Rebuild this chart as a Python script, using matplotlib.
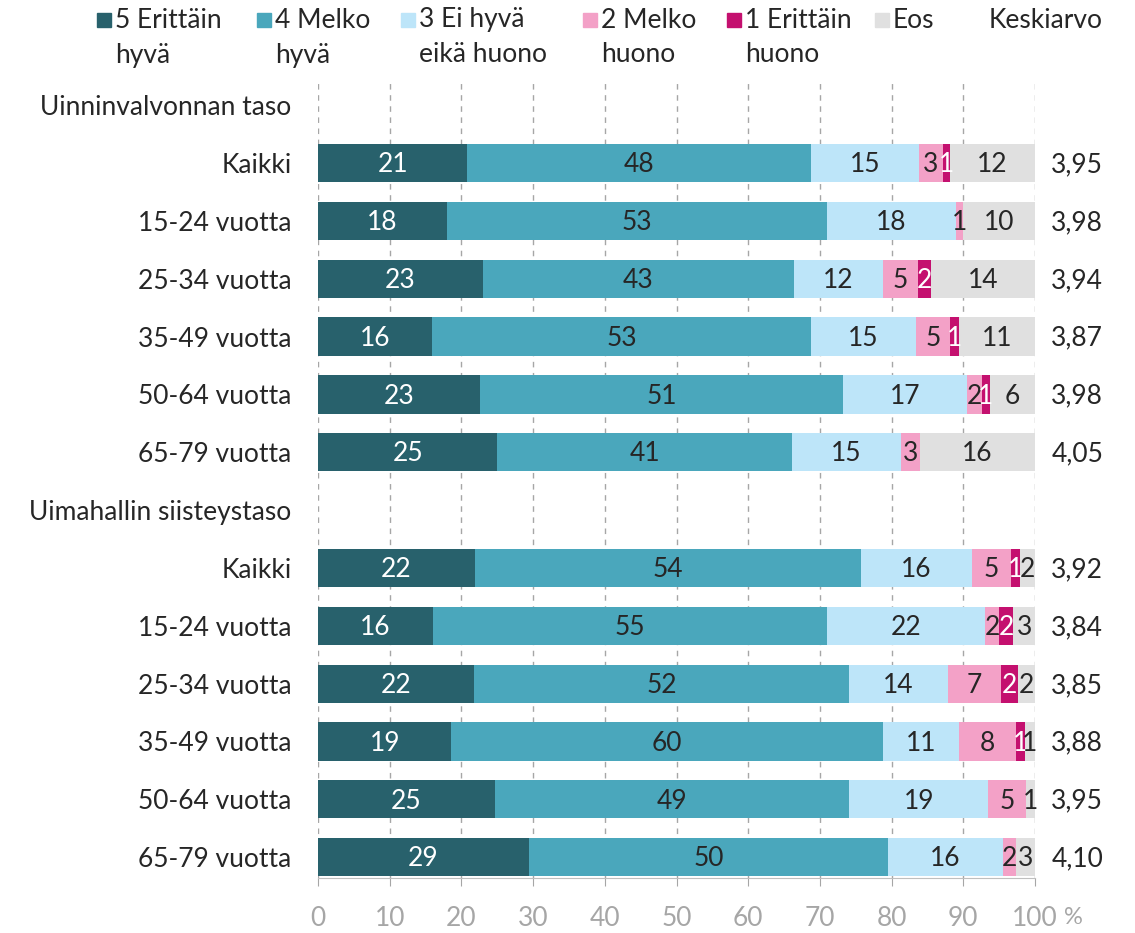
import numpy as np
import matplotlib
matplotlib.use('Agg')
from matplotlib import pyplot as plt
from matplotlib.patches import Rectangle

plt.rcParams['font.family'] = ['Lato', 'DejaVu Sans']

# categories (header rows have no bars)
categories = ['Uinninvalvonnan taso', 'Kaikki', '15-24 vuotta', '25-34 vuotta', '35-49 vuotta',
              '50-64 vuotta', '65-79 vuotta',
              'Uimahallin siisteystaso', 'Kaikki', '15-24 vuotta', '25-34 vuotta', '35-49 vuotta',
              '50-64 vuotta', '65-79 vuotta']
is_header = [True, False, False, False, False, False, False,
             True, False, False, False, False, False, False]

series_names = ['5 Erittäin\nhyvä', '4 Melko\nhyvä', '3 Ei hyvä\neikä huono',
                '2 Melko\nhuono', '1 Erittäin\nhuono', 'Eos']

# percentages per row (0 for header rows)
v5   = [0, 20.8, 18.0, 23.0, 15.9, 22.6, 25.0, 0, 21.9, 16.0, 21.8, 18.6, 24.7, 29.4]
v4   = [0, 48.0, 53.0, 43.4, 52.9, 50.6, 41.1, 0, 53.8, 55.0, 52.3, 60.2, 49.4, 50.1]
v3   = [0, 15.0, 18.0, 12.4, 14.6, 17.3, 15.2, 0, 15.5, 22.0, 13.7, 10.6, 19.4, 16.0]
v2   = [0,  3.4,  1.0,  4.9,  4.7,  2.1,  2.6, 0,  5.4,  2.0,  7.4,  8.0,  5.3,  1.9]
v1   = [0,  0.9,  0.0,  1.8,  1.3,  1.1,  0.0, 0,  1.3,  2.0,  2.4,  1.2,  0.0,  0.0]
veos = [0, 11.9, 10.0, 14.5, 10.6,  6.3, 16.1, 0,  2.1,  3.0,  2.4,  1.4,  1.2,  2.6]

keskiarvo = [None, 3.95, 3.98, 3.94, 3.87, 3.98, 4.05,
             None, 3.92, 3.84, 3.85, 3.88, 3.95, 4.10]

colors = ['#28616C', '#4AA7BC', '#BDE5F9', '#F3A1C7', '#C4106F', '#E0E0E0']
text_colors = ['white', '#262626', '#262626', '#262626', 'white', '#262626']
fs = 19

W, H = 1135, 933
fig = plt.figure(figsize=(W / 100, H / 100), dpi=100)
ax = fig.add_axes([318 / W, 1 - 878 / H, (1035 - 318) / W, (878 - 78) / H])

y = np.arange(len(categories))
data = [v5, v4, v3, v2, v1, veos]
left = np.zeros(len(categories))
for vals, col, tcol in zip(data, colors, text_colors):
    vals = np.array(vals, dtype=float)
    ax.barh(y, vals, left=left, height=0.66, color=col, zorder=2)
    for yi, (l, v) in enumerate(zip(left, vals)):
        if is_header[yi] or round(v) == 0:
            continue
        ax.text(l + v / 2, yi + 0.03, str(int(round(v))), ha='center', va='center',
                fontsize=fs, color=tcol, zorder=3)
    left = left + vals

# keskiarvo column
for yi, k in enumerate(keskiarvo):
    if k is None:
        continue
    ax.text(109.5, yi + 0.03, ('%.2f' % k).replace('.', ','), ha='right', va='center',
            fontsize=fs, color='#262626', clip_on=False)

ax.set_xlim(0, 100)
ax.set_ylim(13.36, -0.47)
ax.set_yticks(y)
ax.set_yticklabels(categories, fontsize=fs, color='#262626')
ax.tick_params(axis='y', length=0, pad=19)
ax.set_xticks(np.arange(0, 101, 10))
ax.tick_params(axis='x', colors='#A6A6A6', labelsize=fs, length=6, pad=14,
               direction='out')
for lab in ax.get_xticklabels():
    lab.set_color('#A6A6A6')
ax.xaxis.grid(True, linestyle=(0, (4, 4)), color='#A6A6A6', linewidth=1, zorder=0)
ax.set_axisbelow(True)
for s in ['top', 'right', 'left']:
    ax.spines[s].set_visible(False)
ax.spines['bottom'].set_color('#BFBFBF')
fig.text(1064 / W, 1 - 918 / H, '%', fontsize=17, color='#A6A6A6', ha='left', va='center')

# legend drawn by hand across the top
legend_x = [97, 257, 401, 583, 727, 875]
for name, col, lx in zip(series_names, colors, legend_x):
    fig.patches.append(Rectangle((lx / W, 1 - 27 / H), 14 / W, 14 / H, color=col,
                                 transform=fig.transFigure, figure=fig))
    line1, line2 = (name.split('\n') + [''])[:2]
    fig.text((lx + 18) / W, 1 - 20 / H, line1, fontsize=fs, color='#262626', va='center')
    if line2:
        fig.text((lx + 18) / W, 1 - 55 / H, line2, fontsize=fs, color='#262626', va='center')
fig.text(1103 / W, 1 - 20 / H, 'Keskiarvo', fontsize=fs, color='#262626', va='center', ha='right')

fig.savefig('out.png', dpi=100)
